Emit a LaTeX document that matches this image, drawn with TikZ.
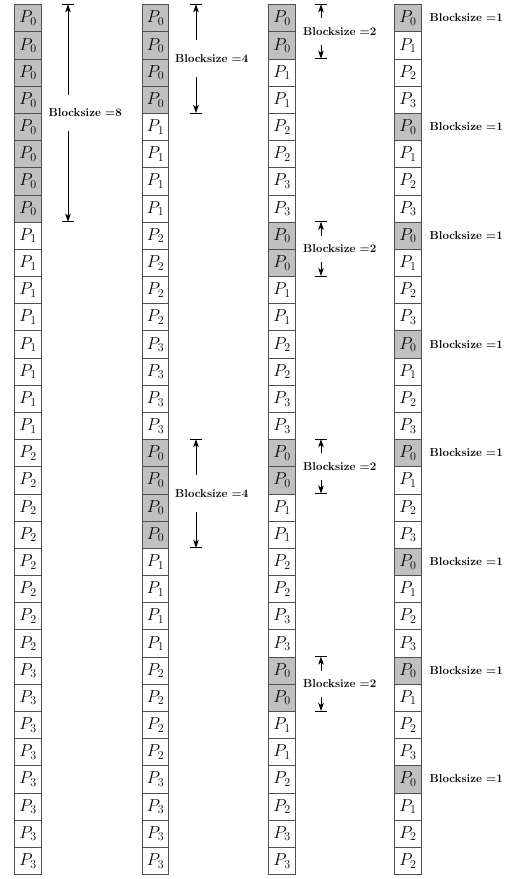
\documentclass[tikz,border=0pt]{standalone}
\usetikzlibrary{arrows.meta}
\begin{document}
\begin{tikzpicture}[x=1pt,y=-1pt,
  cell/.style={draw=cellline, line width=0.8pt, minimum width=27.4pt, minimum height=27.18pt,
    inner sep=0pt, anchor=north west, font=\fontsize{17}{17}\selectfont},
  p0/.style={fill=cellgray}, p1/.style={fill=white}, p2/.style={fill=white}, p3/.style={fill=white},
  lab/.style={anchor=west, inner xsep=0pt, font=\fontsize{11.5}{12}\selectfont\bfseries},
  arr/.style={line width=0.9pt, -{Stealth[length=8pt,width=5.5pt,inset=2pt]}},
  barline/.style={line width=0.9pt}]
\definecolor{cellgray}{RGB}{192,192,192}
\definecolor{cellline}{RGB}{80,80,80}
\useasboundingbox (0,0) rectangle (523,879);
\def\top{4.3}
\def\h{27.18}
% column 1 (blocksize 8)
\foreach \i in {1,...,32}{
  \pgfmathtruncatemacro{\p}{int((\i-1)/8)}
  \node[cell,p\p] (a\i) at (14,{\top+(\i-1)*\h}) {$P_{\p}$};
}
% column 2 (blocksize 4)
\foreach \i in {1,...,32}{
  \pgfmathtruncatemacro{\p}{mod(int((\i-1)/4),4)}
  \node[cell,p\p,minimum width=26.4pt] (b\i) at (142,{\top+(\i-1)*\h}) {$P_{\p}$};
}
% column 3 (blocksize 2)
\foreach \i in {1,...,32}{
  \pgfmathtruncatemacro{\p}{mod(int((\i-1)/2),4)}
  \node[cell,p\p] (c\i) at (268,{\top+(\i-1)*\h}) {$P_{\p}$};
}
% column 4 (blocksize 1)
\foreach \i in {1,...,32}{
  \pgfmathtruncatemacro{\p}{\i==32 ? 2 : mod(\i-1,4)}
  \node[cell,p\p,minimum width=27pt] (d\i) at (394,{\top+(\i-1)*\h}) {$P_{\p}$};
}
% labels column 1
\node[lab, inner ysep=14pt] (L1) at (48.5,{\top+4*\h}) {Blocksize =8};
\coordinate (t1) at (68,{\top});
\coordinate (u1) at (68,{\top+8*\h});
\draw[arr] (L1.north -| t1) -- (t1);
\draw[arr] (L1.south -| u1) -- (u1);
\draw[barline] ([xshift=-6pt]t1) -- ([xshift=6pt]t1);
\draw[barline] ([xshift=-6pt]u1) -- ([xshift=6pt]u1);
% labels column 2
\foreach \r/\n in {0/1,16/2}{
  \node[lab, inner ysep=14pt] (M\n) at (175,{\top+(\r+2)*\h}) {Blocksize =4};
  \coordinate (tm\n) at (196,{\top+\r*\h});
  \coordinate (um\n) at (196,{\top+(\r+4)*\h});
  \draw[arr] (M\n.north -| tm\n) -- (tm\n);
  \draw[arr] (M\n.south -| um\n) -- (um\n);
  \draw[barline] ([xshift=-6pt]tm\n) -- ([xshift=6pt]tm\n);
  \draw[barline] ([xshift=-6pt]um\n) -- ([xshift=6pt]um\n);
}
% labels column 3
\foreach \r/\n in {0/1,8/2,16/3,24/4}{
  \node[lab, inner ysep=9pt] (N\n) at (303,{\top+(\r+1)*\h}) {Blocksize =2};
  \coordinate (tn\n) at (321,{\top+\r*\h});
  \coordinate (un\n) at (321,{\top+(\r+2)*\h});
  \draw[arr] (N\n.north -| tn\n) -- (tn\n);
  \draw[arr] (N\n.south -| un\n) -- (un\n);
  \draw[barline] ([xshift=-6pt]tn\n) -- ([xshift=6pt]tn\n);
  \draw[barline] ([xshift=-6pt]un\n) -- ([xshift=6pt]un\n);
}
% labels column 4
\foreach \r/\n in {0/1,4/2,8/3,12/4,16/5,20/6,24/7,28/8}{
  \node[lab] (Q\n) at (429.5,{\top+(\r+0.5)*\h}) {Blocksize =1};
}
\end{tikzpicture}
\end{document}
